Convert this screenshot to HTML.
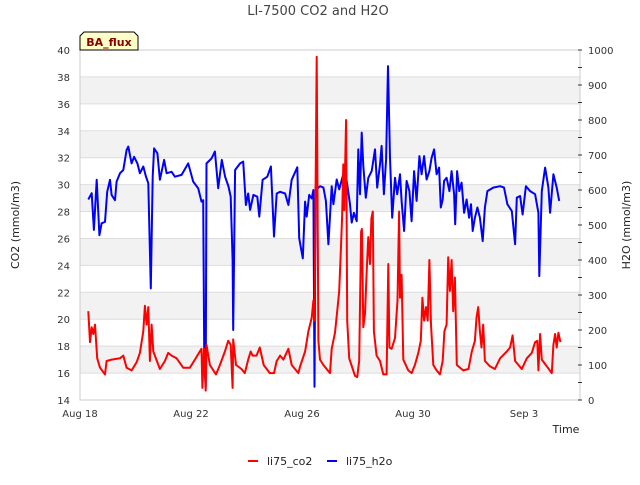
<!DOCTYPE html>
<html><head><meta charset="utf-8"><style>
body{margin:0;background:#fff;font-family:"Liberation Sans","DejaVu Sans",sans-serif}
svg text{font-family:"DejaVu Sans","Liberation Sans",sans-serif}
</style></head><body>
<svg id="chart" width="640" height="480" xmlns="http://www.w3.org/2000/svg">
<text x="318" y="15" text-anchor="middle" font-size="13" fill="#444">LI-7500 CO2 and H2O</text>
<g id="bands"></g><g id="grid"></g>
<rect x="80" y="50" width="500" height="350" fill="none" stroke="#ccc"/>
<g id="yl"></g><g id="yr"></g><g id="xt"></g>
<g id="series"></g>
<text transform="translate(19,225) rotate(-90)" text-anchor="middle" font-size="11" fill="#222">CO2 (mmol/m3)</text>
<text transform="translate(630,225) rotate(-90)" text-anchor="middle" font-size="11" fill="#222">H2O (mmol/m3)</text>
<text x="566" y="433" text-anchor="middle" font-size="11" fill="#222">Time</text>
<g>
<path d="M80,50 L80,36 L84,32 L134,32 L138,36 L138,50 Z" fill="#ffffc8" stroke="#000" stroke-width="1"/>
<text x="109" y="46" text-anchor="middle" font-size="11" font-weight="bold" fill="#8b0000">BA_flux</text></g>
<g>
<line x1="248" y1="461" x2="258" y2="461" stroke="#f00" stroke-width="2"/>
<text x="267" y="465" font-size="11" fill="#222">li75_co2</text>
<line x1="327" y1="461" x2="337" y2="461" stroke="#00f" stroke-width="2"/>
<text x="346" y="465" font-size="11" fill="#222">li75_h2o</text></g>
</svg>
<script>
const co2Ticks=[14,16,18,20,22,24,26,28,30,32,34,36,38,40];
const h2oTicks=[0,100,200,300,400,500,600,700,800,900,1000];
const xTickDays=[0,4,8,12,16];
const xTickLabels=["Aug 18","Aug 22","Aug 26","Aug 30","Sep 3"];
const h2oDays=[0.30,0.42,0.50,0.60,0.70,0.78,0.90,0.98,1.08,1.14,1.26,1.32,1.44,1.56,1.68,1.74,1.86,1.95,2.07,2.16,2.28,2.38,2.46,2.55,2.62,2.67,2.79,2.88,3.03,3.12,3.30,3.42,3.66,3.90,4.08,4.26,4.38,4.44,4.48,4.53,4.56,4.74,4.86,4.98,5.11,5.23,5.35,5.43,5.50,5.52,5.59,5.77,5.88,5.98,6.06,6.13,6.25,6.39,6.46,6.58,6.75,6.88,6.99,7.09,7.21,7.39,7.51,7.63,7.83,7.90,8.03,8.11,8.17,8.26,8.35,8.41,8.45,8.49,8.53,8.65,8.77,8.86,8.95,9.07,9.13,9.25,9.34,9.49,9.61,9.73,9.79,9.87,9.97,10.03,10.09,10.15,10.21,10.30,10.39,10.51,10.63,10.71,10.81,10.87,10.95,11.03,11.10,11.17,11.25,11.35,11.43,11.53,11.59,11.68,11.77,11.87,11.95,12.04,12.13,12.23,12.31,12.40,12.49,12.59,12.67,12.76,12.85,12.94,13.00,13.07,13.12,13.21,13.31,13.39,13.48,13.52,13.59,13.67,13.75,13.84,13.93,14.02,14.09,14.15,14.23,14.32,14.41,14.51,14.59,14.68,14.89,15.14,15.28,15.40,15.56,15.68,15.74,15.86,15.95,16.07,16.22,16.40,16.52,16.55,16.64,16.76,16.88,16.94,17.06,17.18,17.27];
const h2oValues=[573,591,486,629,471,505,509,595,629,586,571,624,648,657,714,724,676,695,676,648,667,638,619,319,638,719,705,629,686,648,652,638,643,676,624,605,567,571,105,38,676,690,710,605,686,638,610,581,400,200,657,676,681,557,590,543,586,581,524,629,638,667,467,590,595,590,557,629,665,462,405,567,524,586,576,600,38,610,602,611,607,569,445,611,559,630,602,645,626,559,507,535,511,716,588,764,669,578,635,654,716,607,673,726,588,688,954,692,521,635,588,645,569,483,626,597,511,654,569,697,645,697,630,654,692,716,645,664,550,573,626,635,597,654,588,502,654,597,621,535,573,521,559,483,521,550,521,454,550,597,607,611,607,559,540,445,578,583,530,611,597,588,535,354,597,664,607,535,645,607,569];
const co2Days=[0.30,0.36,0.42,0.48,0.54,0.62,0.72,0.90,0.96,1.14,1.44,1.56,1.68,1.86,2.04,2.16,2.28,2.34,2.40,2.46,2.52,2.58,2.64,2.88,3.06,3.18,3.30,3.48,3.72,3.96,4.14,4.26,4.38,4.41,4.47,4.53,4.56,4.68,4.90,5.04,5.22,5.34,5.43,5.50,5.52,5.62,5.82,5.94,6.06,6.15,6.22,6.36,6.48,6.62,6.84,6.99,7.09,7.21,7.33,7.51,7.63,7.87,7.93,8.11,8.23,8.35,8.41,8.45,8.53,8.59,8.65,8.77,9.01,9.07,9.19,9.27,9.34,9.41,9.45,9.49,9.52,9.59,9.63,9.70,9.91,9.99,10.06,10.13,10.16,10.21,10.27,10.33,10.39,10.45,10.50,10.55,10.59,10.69,10.81,10.93,11.05,11.11,11.15,11.23,11.35,11.44,11.50,11.53,11.59,11.65,11.83,11.95,12.07,12.19,12.28,12.34,12.40,12.47,12.53,12.59,12.65,12.73,12.85,12.97,13.07,13.13,13.21,13.27,13.33,13.39,13.45,13.51,13.58,13.81,14.00,14.12,14.23,14.29,14.35,14.41,14.47,14.53,14.59,14.77,14.95,15.14,15.38,15.50,15.59,15.68,15.92,16.10,16.28,16.40,16.48,16.52,16.58,16.64,16.82,17.00,17.06,17.12,17.18,17.24,17.31];
const co2Values=[20.6,18.3,19.4,18.9,19.6,17.1,16.4,15.9,16.9,17.0,17.1,17.3,16.4,16.2,16.8,17.5,19.1,21.0,19.6,20.9,16.9,19.6,17.6,16.3,16.9,17.5,17.3,17.1,16.4,16.4,17.0,17.4,17.8,14.9,17.8,14.7,18.1,16.6,15.9,16.6,17.6,18.4,18.1,14.9,18.5,16.6,16.3,16.0,17.0,17.6,17.3,17.3,17.9,16.6,16.0,16.0,16.9,17.3,17.0,17.8,16.6,16.0,16.5,17.6,19.1,20.1,21.4,19.9,39.5,18.4,17.0,16.6,16.0,17.8,19.0,20.6,22.1,25.6,27.8,31.5,28.1,34.8,19.9,17.1,15.8,15.7,16.9,26.5,26.7,19.4,20.4,23.6,26.1,24.1,27.5,28.0,19.1,17.3,16.9,15.9,15.9,24.1,17.9,17.8,18.6,21.4,28.0,21.6,23.3,17.0,16.2,16.0,16.6,17.5,18.4,21.6,19.9,20.9,19.9,24.4,19.6,16.6,16.2,15.9,16.9,19.1,19.6,24.6,22.1,24.4,20.6,23.1,16.6,16.2,16.3,17.6,18.4,20.1,20.9,19.1,17.9,19.6,16.9,16.5,16.3,17.1,17.6,17.9,18.8,16.9,16.3,17.1,17.5,18.3,18.4,16.2,18.9,17.0,16.5,16.0,18.1,18.9,17.9,19.0,18.3];

const NS="http://www.w3.org/2000/svg";
const X0=80,X1=580,Y0=50,Y1=400,PXDAY=27.75;
const xs=d=>X0+d*PXDAY;
const yL=v=>Y1-(v-14)/26*(Y1-Y0);
const yR=v=>Y1-v/1000*(Y1-Y0);
function mk(tag,attrs,parent){const e=document.createElementNS(NS,tag);for(const k in attrs)e.setAttribute(k,attrs[k]);document.getElementById(parent).appendChild(e);return e;}
for(let i=0;i<co2Ticks.length;i++){
  const v=co2Ticks[i];
  if(v%4===0&&v<40){const b=mk('rect',{x:X0,y:yL(v+2),width:X1-X0,height:yL(v)-yL(v+2),fill:'#f2f2f2'},'bands');
    
    }
  const g=mk('line',{x1:X0,x2:X1,y1:yL(v),y2:yL(v),stroke:'#ddd'},'grid');
  
  
  const t=mk('text',{x:X0-10,y:yL(v)+4,'text-anchor':'end','font-size':'10',fill:'#333'},'yl');
  t.textContent=v;
  
  
}
for(const v of h2oTicks){
  const t=mk('text',{x:X1+8,y:yR(v)+4,'font-size':'10',fill:'#333'},'yr');
  t.textContent=v;
  
  
  mk('line',{x1:X1-2,x2:X1+2,y1:yR(v),y2:yR(v),stroke:'#333'},'yr');
  if(v<1000) mk('line',{x1:X1-2,x2:X1+2,y1:yR(v+50),y2:yR(v+50),stroke:'#333'},'yr');
}
for(let i=0;i<xTickDays.length;i++){
  const t=mk('text',{x:xs(xTickDays[i]),y:417,'text-anchor':'middle','font-size':'10',fill:'#333'},'xt');
  t.textContent=xTickLabels[i];
  
  
}
function line(days,vals,yf,color,name){
  const d=days.map((x,i)=>(i?'L':'M')+xs(x).toFixed(1)+','+yf(vals[i]).toFixed(1)).join('');
  const p=mk('path',{d:d,fill:'none',stroke:color,'stroke-width':'2','stroke-linejoin':'round'},'series');
  
  
}
line(h2oDays,h2oValues,yR,'#00f','h2o-line');
line(co2Days,co2Values,yL,'#f00','co2-line');
</script>
</body></html>
